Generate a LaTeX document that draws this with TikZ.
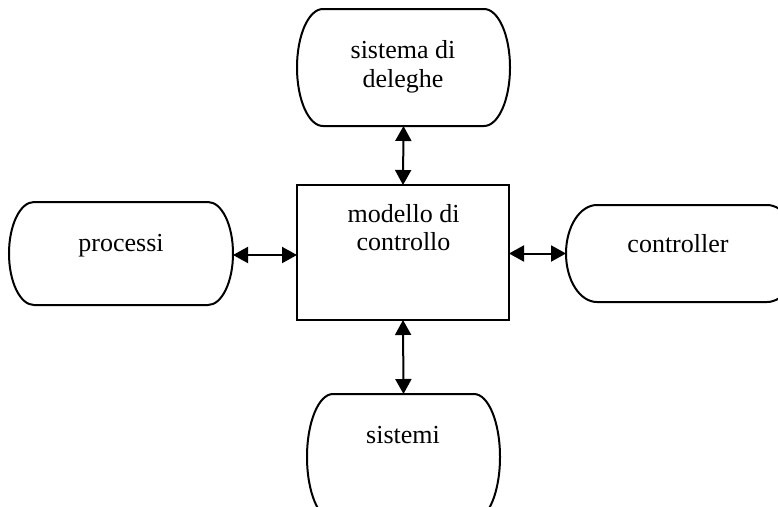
\documentclass[tikz,border=0pt]{standalone}
\usepackage{fontspec}
\setmainfont{Liberation Serif}
\usetikzlibrary{arrows.meta}
\tikzset{
  shp/.style={draw=none,inner sep=0pt,outer sep=0pt},
  boxnode/.style={draw,line width=2pt,inner sep=0pt,outer sep=0pt},
  lbl/.style={inner sep=0pt,anchor=base,font=\fontsize{26}{29}\selectfont},
  outline/.style={draw,line width=2pt},
  conn/.style={line width=2pt,{Triangle[length=15pt,width=16pt]}-{Triangle[length=15pt,width=16pt]}}
}
% #1 node name, #2 x radius, #3 y radius
\newcommand{\termshape}[3]{%
  \draw[outline] ([xshift=#2pt]#1.north west) -- ([xshift=-#2pt]#1.north east)
    arc[start angle=90,end angle=-90,x radius=#2pt,y radius=#3pt]
    -- ([xshift=#2pt]#1.south west)
    arc[start angle=270,end angle=90,x radius=#2pt,y radius=#3pt] -- cycle;}
\begin{document}
\begin{tikzpicture}[x=1pt,y=-1pt]
\useasboundingbox (0,0) rectangle (778,506);
\clip (0,0) rectangle (778,506);
\fill[white] (0,0) rectangle (778,506);
% shapes
\node[shp,minimum width=213pt,minimum height=117pt] (deleghe) at (403.5,67.5) {};
\node[shp,minimum width=224pt,minimum height=103pt] (processi) at (121,253.5) {};
\node[shp,minimum width=232pt,minimum height=97pt] (controller) at (682,253.5) {};
\node[shp,minimum width=193pt,minimum height=126pt] (sistemi) at (403.5,457) {};
\node[boxnode,minimum width=212pt,minimum height=135pt] (modello) at (403,252.5) {};
\termshape{deleghe}{26}{58.5}
\termshape{processi}{25}{51.5}
\termshape{controller}{31}{48.5}
\termshape{sistemi}{26}{63}
% labels
\node[lbl] (l1a) at (403,58) {sistema di};
\node[lbl] (l1b) at (403,87) {deleghe};
\node[lbl] (l2a) at (403.5,222) {modello di};
\node[lbl] (l2b) at (403.5,250) {controllo};
\node[lbl] (l3) at (121,251) {processi};
\node[lbl] (l4) at (678,252) {controller};
\node[lbl] (l5) at (403,443) {sistemi};
% connectors
\draw[conn] (deleghe.south) -- (modello.north);
\draw[conn] (modello.south) -- (sistemi.north);
\draw[conn] ([yshift=-1.5pt]processi.east) -- ([yshift=-1.5pt]processi.east -| modello.west);
\draw[conn] (modello.east |- controller.west) -- (controller.west);
\end{tikzpicture}
\end{document}
